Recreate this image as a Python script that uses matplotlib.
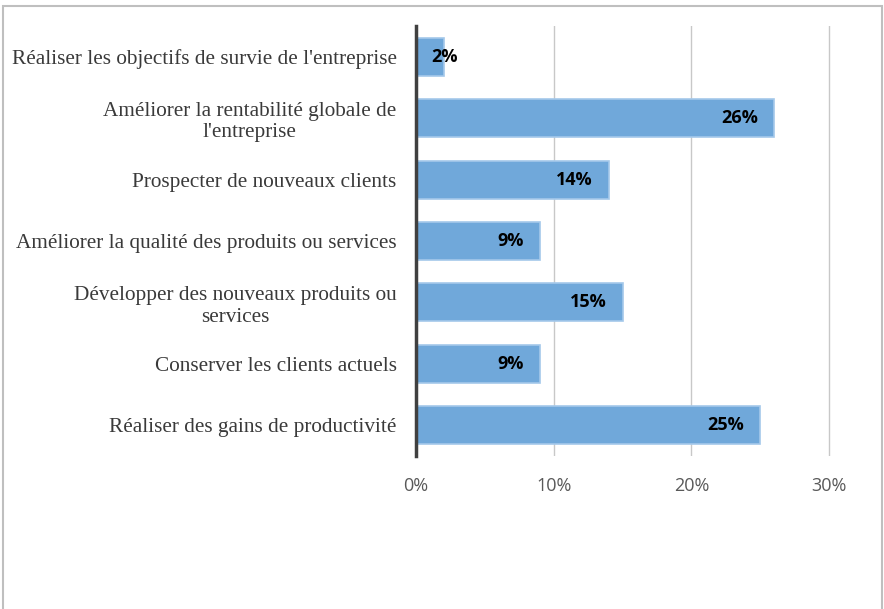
import matplotlib
matplotlib.use("Agg")
import matplotlib.pyplot as plt
from matplotlib.patches import Rectangle

# Données (de haut en bas)
categories = [
    "Réaliser les objectifs de survie de l'entreprise",
    "Améliorer la rentabilité globale de\nl'entreprise",
    "Prospecter de nouveaux clients",
    "Améliorer la qualité des produits ou services",
    "Développer des nouveaux produits ou\nservices",
    "Conserver les clients actuels",
    "Réaliser des gains de productivité",
]
values = [2, 26, 14, 9, 15, 9, 25]
value_labels = ["2%", "26%", "14%", "9%", "15%", "9%", "25%"]
xticks = [0, 10, 20, 30]
xtick_labels = ["0%", "10%", "20%", "30%"]

fig = plt.figure(figsize=(8.84, 6.09), dpi=100)
px = (829 - 416) / 30.0
ax = fig.add_axes([416 / 884, (609 - 456) / 609, 30.3 * px / 884, 430 / 609])

n = len(categories)
ypos = [n - 1 - i for i in range(n)]

ax.barh(ypos, values, height=0.62, color="#70A8DA", edgecolor="#A4C8EA",
        linewidth=1.2, zorder=3)

# étiquettes de données
for y, v, lab in zip(ypos, values, value_labels):
    if v > 5:
        ax.text(v - 1.16, y, lab, ha="right", va="center", fontsize=13,
                fontweight="bold", family="Open Sans", color="black", zorder=4)
    else:
        ax.text(1.1, y, lab, ha="left", va="center", fontsize=13,
                fontweight="bold", family="Open Sans", color="black", zorder=4)

ax.set_xlim(0, 30.3)
ax.set_ylim(-0.5, n - 0.5)
ax.set_xticks(xticks)
ax.set_xticklabels(xtick_labels, family="Open Sans", fontsize=13, color="#595959")
ax.set_yticks(ypos)
ax.set_yticklabels(categories, family="Liberation Serif", fontsize=15.3,
                   color="#3A3A3A", multialignment="center")
ax.tick_params(axis="both", length=0)
ax.tick_params(axis="y", pad=14)
ax.tick_params(axis="x", pad=15)

ax.grid(axis="x", color="#C8C8C8", linewidth=1, zorder=0)
for s in ["top", "right", "bottom"]:
    ax.spines[s].set_visible(False)
ax.spines["left"].set_color("#404040")
ax.spines["left"].set_linewidth(2.5)
ax.spines["left"].set_zorder(5)

# cadre gris autour du graphique
fig.patches.append(Rectangle((3 / 884, -0.05), 879 / 884, 1.05 - 6 / 609,
                             transform=fig.transFigure, fill=False,
                             edgecolor="#BFBFBF", linewidth=1.5))

fig.savefig("out.png", dpi=100)
